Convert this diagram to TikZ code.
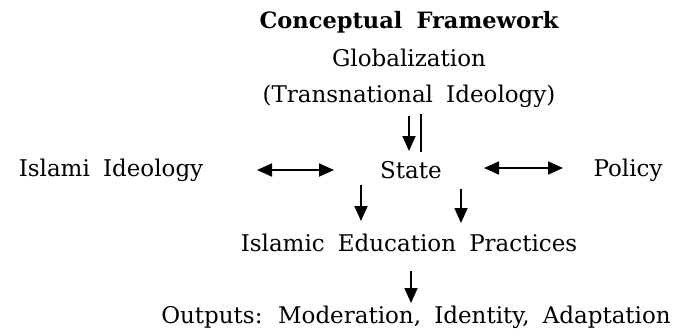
\documentclass[tikz,border=0pt]{standalone}
\usepackage{fontspec}
\setmainfont{DejaVu Serif}[WordSpace=1.8]
\usetikzlibrary{arrows.meta}
\begin{document}
\begin{tikzpicture}[x=1pt,y=-1pt,
  lbl/.style={inner sep=0pt,anchor=center,font=\fontsize{23}{26}\selectfont},
  arr/.style={line width=1.8pt,-{Triangle[length=15pt,width=13pt]}},
  darr/.style={line width=1.8pt,{Triangle[length=15pt,width=13pt]}-{Triangle[length=15pt,width=13pt]}}]
\useasboundingbox (0,0) rectangle (692,335);
\node[lbl,font=\fontsize{22.5}{26}\selectfont\bfseries] (title) at (409,22) {Conceptual Framework};
\node[lbl] (glob) at (409,58) {Globalization};
\node[lbl] (trans) at (409,96) {(Transnational Ideology)};
\node[lbl] (state) at (411,170) {State};
\node[lbl] (islami) at (111,170) {Islami Ideology};
\node[lbl] (policy) at (628,170) {Policy};
\node[lbl] (iep) at (409,243) {Islamic Education Practices};
\node[lbl] (out) at (416,317) {Outputs: Moderation, Identity, Adaptation};
\coordinate (a1s) at (409,116); \coordinate (a1e) at (409,151);
\draw[arr] (a1s) -- (a1e);
\coordinate (l1s) at (421,114); \coordinate (l1e) at (421,152);
\draw[line width=1.8pt] (l1s) -- (l1e);
\coordinate (d1s) at (257,170); \coordinate (d1e) at (334,170);
\draw[darr] (d1s) -- (d1e);
\coordinate (d2s) at (484,168); \coordinate (d2e) at (563,168);
\draw[darr] (d2s) -- (d2e);
\coordinate (b1s) at (361,185); \coordinate (b1e) at (361,221);
\draw[arr] (b1s) -- (b1e);
\coordinate (b2s) at (461,189); \coordinate (b2e) at (461,223);
\draw[arr] (b2s) -- (b2e);
\coordinate (c1s) at (411,271); \coordinate (c1e) at (411,303);
\draw[arr] (c1s) -- (c1e);
\end{tikzpicture}
\end{document}
